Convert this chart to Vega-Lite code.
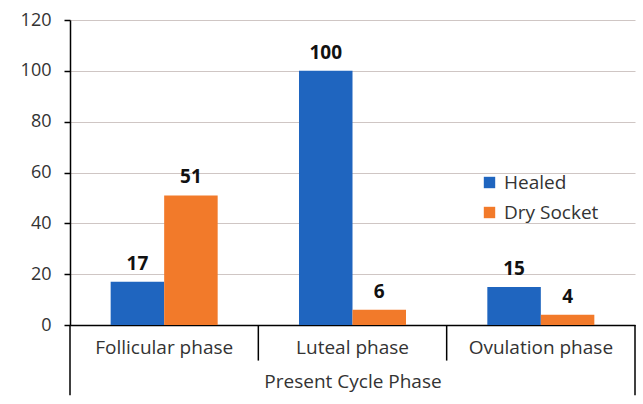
{
  "$schema": "https://vega.github.io/schema/vega-lite/v6.json",
  "width": 565,
  "height": 305,
  "autosize": {"type": "none"},
  "padding": {"left": 70, "top": 20, "right": 8, "bottom": 79},
  "config": {"view": {"stroke": null}, "font": "Open Sans"},
  "layer": [
    {
      "data": {
        "values": [
          {"phase": "Follicular phase", "group": "Healed", "value": 17},
          {"phase": "Follicular phase", "group": "Dry Socket", "value": 51},
          {"phase": "Luteal phase", "group": "Healed", "value": 100},
          {"phase": "Luteal phase", "group": "Dry Socket", "value": 6},
          {"phase": "Ovulation phase", "group": "Healed", "value": 15},
          {"phase": "Ovulation phase", "group": "Dry Socket", "value": 4}
        ]
      },
      "encoding": {
        "x": {
          "field": "phase", "type": "nominal", "sort": null,
          "scale": {"paddingInner": 0, "paddingOuter": 0},
          "axis": {
            "title": "Present Cycle Phase", "labelAngle": 0, "ticks": false,
            "domainColor": "#000", "domainWidth": 1.5,
            "labelFontSize": 19, "labelColor": "#333", "labelPadding": 13,
            "titleFontSize": 19, "titleFontWeight": "normal", "titleColor": "#333", "titlePadding": 15
          }
        },
        "xOffset": {
          "field": "group", "type": "nominal", "sort": ["Healed", "Dry Socket"],
          "scale": {"paddingInner": 0, "paddingOuter": 0.76}
        },
        "y": {
          "field": "value", "type": "quantitative",
          "scale": {"domain": [0, 120], "nice": false},
          "axis": {
            "title": null, "values": [0, 20, 40, 60, 80, 100, 120],
            "grid": true, "gridColor": "#cfc6c4", "gridWidth": 1.2,
            "domainColor": "#000", "domainWidth": 1.5,
            "tickColor": "#000", "tickSize": 6, "tickWidth": 1.5,
            "labelFontSize": 18, "labelColor": "#333", "labelPadding": 13
          }
        }
      },
      "layer": [
        {
          "mark": {"type": "bar"},
          "encoding": {
            "color": {
              "field": "group", "type": "nominal", "sort": ["Healed", "Dry Socket"],
              "scale": {"domain": ["Healed", "Dry Socket"], "range": ["#1f65bf", "#f27a2a"]},
              "legend": {
                "title": null, "orient": "none", "legendX": 410, "legendY": 153,
                "symbolType": "square", "symbolSize": 130, "symbolStrokeWidth": 0,
                "labelFontSize": 19, "labelColor": "#333", "rowPadding": 10, "labelOffset": 5
              }
            }
          }
        },
        {
          "mark": {"type": "text", "fontWeight": "bold", "fontSize": 19, "color": "#111", "baseline": "alphabetic", "dy": -12},
          "encoding": {"text": {"field": "value", "type": "quantitative"}}
        }
      ]
    },
    {
      "data": {
        "values": [
          {"pos": 0, "top": 0, "bottom": -27.6},
          {"pos": 1, "top": 0, "bottom": -14},
          {"pos": 2, "top": 0, "bottom": -14},
          {"pos": 3, "top": 0, "bottom": -27.6}
        ]
      },
      "mark": {"type": "rule", "color": "#000", "strokeWidth": 1.5},
      "encoding": {
        "x": {"field": "pos", "type": "quantitative", "scale": {"domain": [0, 3], "nice": false, "zero": false}, "axis": null},
        "y": {"field": "top", "type": "quantitative", "scale": {"domain": [0, 120], "nice": false}, "axis": null},
        "y2": {"field": "bottom"}
      }
    }
  ],
  "resolve": {"scale": {"x": "independent", "y": "independent"}}
}
